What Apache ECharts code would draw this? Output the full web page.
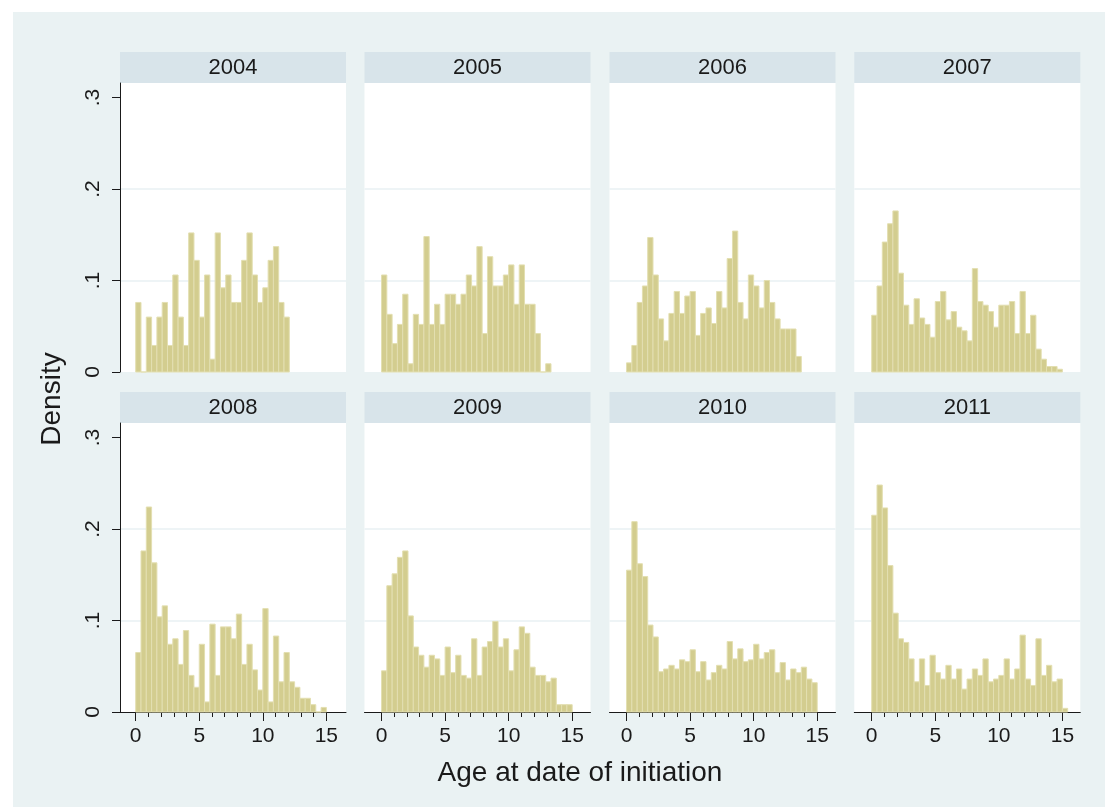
<!DOCTYPE html>
<html><head><meta charset="utf-8">
<script src="https://cdn.jsdelivr.net/npm/echarts@6/dist/echarts.min.js"></script>
<style>html,body{margin:0;padding:0;background:#fff;}#chart{width:1105px;height:807px;}</style>
</head><body><div id="chart"></div>
<script>
// ---- data ----
const years = ['2004','2005','2006','2007','2008','2009','2010','2011'];
const binWidth = 5 / 12;              // common histogram bin width (years)
const xMajorTicks = [0, 5, 10, 15];
const xMinorTicks = [1, 2, 3, 4, 6, 7, 8, 9, 11, 12, 13, 14];
const yTicks = [0, 0.1, 0.2, 0.3];
const yTickLabels = ['0', '.1', '.2', '.3'];
const xTitle = 'Age at date of initiation';
const yTitle = 'Density';

const d2004 = [0.076,0,0.060,0.029,0.060,0.076,0.029,0.106,0.060,0.029,0.152,0.122,0.060,0.106,0.014,0.152,0.092,0.106,0.076,0.076,0.122,0.152,0.106,0.076,0.092,0.122,0.137,0.076,0.060];
const d2005 = [0.106,0.063,0.031,0.052,0.085,0.009,0.063,0.052,0.148,0.052,0.074,0.052,0.085,0.085,0.074,0.085,0.106,0.094,0.137,0.042,0.126,0.094,0.094,0.106,0.117,0.074,0.117,0.074,0.074,0.042,0,0.009];
const d2006 = [0.010,0.029,0.076,0.094,0.147,0.106,0.058,0.034,0.064,0.088,0.064,0.083,0.088,0.040,0.064,0.070,0.053,0.088,0.070,0.124,0.154,0.076,0.058,0.106,0.094,0.070,0.100,0.076,0.058,0.047,0.047,0.047,0.017];
const d2007 = [0.062,0.094,0.142,0.162,0.176,0.108,0.073,0.052,0.080,0.059,0.052,0.038,0.077,0.088,0.057,0.066,0.049,0.045,0.034,0.113,0.077,0.073,0.066,0.049,0.073,0.073,0.077,0.042,0.088,0.042,0.062,0.025,0.014,0.006,0.006,0.003];
const d2008 = [0.065,0.176,0.224,0.163,0.104,0.116,0.074,0.080,0.052,0.089,0.040,0.027,0.074,0.011,0.096,0.040,0.093,0.093,0.080,0.107,0.052,0.074,0.046,0.024,0.113,0.011,0.083,0.033,0.065,0.033,0.027,0.015,0.015,0.008,0,0.005];
const d2009 = [0.045,0.138,0.151,0.169,0.176,0.105,0.071,0.062,0.049,0.062,0.058,0.040,0.071,0.043,0.062,0.040,0.037,0.080,0.040,0.071,0.077,0.099,0.071,0.080,0.045,0.068,0.093,0.086,0.049,0.040,0.040,0.033,0.037,0.008,0.008,0.008];
const d2010 = [0.155,0.208,0.162,0.148,0.095,0.082,0.044,0.047,0.051,0.047,0.057,0.055,0.068,0.044,0.055,0.035,0.043,0.051,0.047,0.077,0.058,0.069,0.055,0.057,0.074,0.058,0.065,0.068,0.043,0.054,0.035,0.047,0.043,0.049,0.036,0.032];
const d2011 = [0.215,0.248,0.223,0.160,0.108,0.080,0.076,0.058,0.033,0.058,0.029,0.062,0.043,0.036,0.051,0.036,0.047,0.025,0.036,0.047,0.040,0.058,0.033,0.036,0.040,0.058,0.036,0.047,0.084,0.036,0.029,0.080,0.040,0.051,0.033,0.036,0.004];
const panelData = [d2004, d2005, d2006, d2007, d2008, d2009, d2010, d2011];

// ---- layout ----
const FONT = '"Liberation Sans", Arial, sans-serif';
const colLeft = [120, 364.5, 609.5, 854.3];
const colXMin = [-1.236, -1.34, -1.34, -1.37];
const rowTop = [83, 423];
const plotW = 226, plotH = 289, stripH = 31;
const xSpan = 17.78, yMax = 0.3158;
const BAR_FILL = '#d3cd8f', BAR_EDGE = '#e3dfb1';
const BG = '#eaf2f3', STRIP = '#d8e4ea', GRID = '#e9f1f3', INK = '#1a1a1a';

const grids = [], xAxes = [], yAxes = [], series = [], graphics = [];
graphics.push({type:'rect', left:13, top:12, shape:{width:1092, height:795}, style:{fill:BG}, z:-10});

function renderBar(params, api) {
  const p0 = api.coord([api.value(0), api.value(2)]);
  const p1 = api.coord([api.value(1), 0]);
  return {type:'rect', shape:{x:p0[0], y:p0[1], width:p1[0]-p0[0], height:p1[1]-p0[1]},
          style:{fill:BAR_FILL, stroke:BAR_EDGE, lineWidth:1}};
}

years.forEach((yr, k) => {
  const r = Math.floor(k / 4), c = k % 4;
  const left = colLeft[c], top = rowTop[r];
  grids.push({left:left, top:top, width:plotW, height:plotH, show:true, backgroundColor:'#fff', borderWidth:0});
  const bottomRow = r === 1, leftCol = c === 0;
  xAxes.push({
    type:'value', gridIndex:k, position:'bottom', min:colXMin[c], max:colXMin[c] + xSpan,
    show: bottomRow,
    axisLine:{show:true, onZero:false, lineStyle:{color:INK, width:1}},
    axisTick:{show:true, length:9, customValues:xMajorTicks, lineStyle:{color:INK, width:1}},
    axisLabel:{show:true, customValues:xMajorTicks, fontSize:21, fontFamily:FONT, color:INK, margin:14},
    splitLine:{show:false}
  });
  yAxes.push({
    type:'value', gridIndex:k, position:'left', min:0, max:yMax, interval:0.1,
    axisLine:{show:leftCol, onZero:false, lineStyle:{color:INK, width:1}},
    axisTick:{show:leftCol, length:8, customValues:yTicks, lineStyle:{color:INK, width:1}},
    axisLabel:{show:leftCol, customValues:yTicks, rotate:90, fontSize:21, fontFamily:FONT, color:INK, margin:16,
               formatter: v => { const i = yTicks.findIndex(t => Math.abs(t - v) < 1e-6); return i >= 0 ? yTickLabels[i] : ''; }},
    splitLine:{show:true, showMinLine:false, showMaxLine:false, lineStyle:{color:GRID, width:1.5}}
  });
  series.push({
    type:'custom', xAxisIndex:k, yAxisIndex:k, renderItem:renderBar,
    encode:{x:[0,1], y:2},
    data: panelData[k].map((v, i) => [i * binWidth, (i + 1) * binWidth, v])
  });
  graphics.push({type:'rect', left:left, top:top - stripH, shape:{width:plotW, height:stripH}, style:{fill:STRIP}, z:-5});
  graphics.push({type:'text', x:left + plotW / 2, y:top - stripH / 2, style:{text:yr, fill:INK, font:'22px ' + FONT, textAlign:'center', textVerticalAlign:'middle'}});
});
// minor x ticks for bottom row
for (let k = 4; k < 8; k++) {
  const c = k % 4;
  xAxes.push({
    type:'value', gridIndex:k, position:'bottom', offset:0, min:colXMin[c], max:colXMin[c] + xSpan,
    axisLine:{show:false, onZero:false}, axisLabel:{show:false}, splitLine:{show:false},
    axisTick:{show:true, length:5, customValues:xMinorTicks, lineStyle:{color:INK, width:1}}
  });
}
graphics.push({type:'line', shape:{x1:112, y1:712.5, x2:120, y2:712.5}, style:{stroke:INK, lineWidth:1}});
graphics.push({type:'text', x:52, y:399, rotation:Math.PI/2, style:{text:yTitle, fill:INK, font:'28px ' + FONT, textAlign:'center', textVerticalAlign:'middle'}});
graphics.push({type:'text', x:580, y:773, style:{text:xTitle, fill:INK, font:'28px ' + FONT, textAlign:'center', textVerticalAlign:'middle'}});

const chart = echarts.init(document.getElementById('chart'), null, {renderer:'canvas'});
chart.setOption({backgroundColor:'#fff', animation:false, grid:grids, xAxis:xAxes, yAxis:yAxes, series:series, graphic:graphics});
</script></body></html>
